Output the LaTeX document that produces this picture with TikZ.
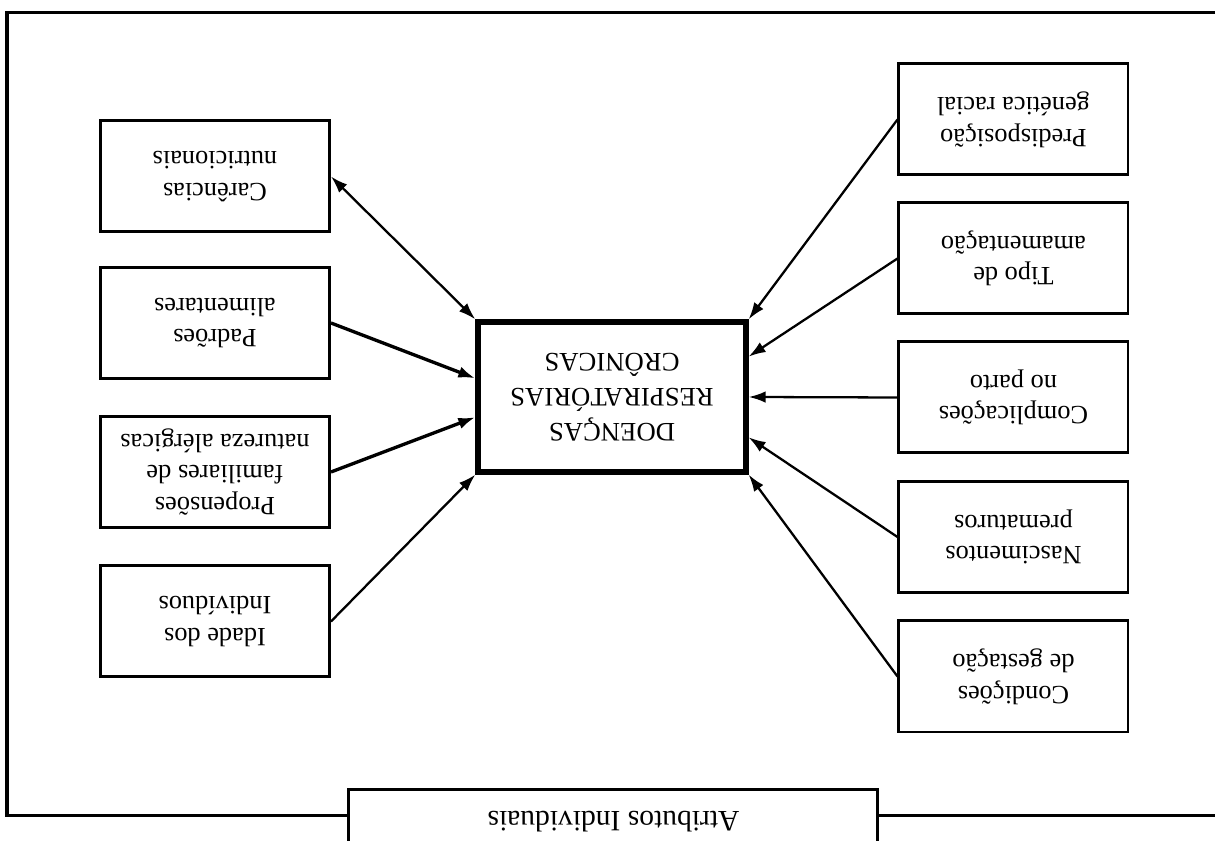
\documentclass[tikz,border=0pt]{standalone}
\usepackage{fontspec}
\setmainfont{Liberation Serif}
\usetikzlibrary{
    arrows.meta,
    calc
}
\tikzset {
    small box/.style = {draw, line width = 0.85pt, align = center,
        minimum width = 2.29cm, minimum height = 1.11cm, inner sep = 1pt,
        font = \fontsize{7.5}{9}\selectfont},
    main box/.style = {draw, line width = 1.5pt, align = center,
        minimum width = 2.68cm, minimum height = 1.5cm,
        font = \fontsize{7.6}{10}\selectfont},
    title box/.style = {draw, fill = white, line width = 0.85pt,
        minimum width = 5.29cm, minimum height = 0.64cm,
        font = \fontsize{8.4}{10}\selectfont},
    link/.style = {line width = 0.65pt, -{Latex[length = 1.7mm, width = 1.15mm]}},
    heavy link/.style = {link, line width = 0.95pt},
    both link/.style = {link, {Latex[length = 1.7mm, width = 1.15mm]}-{Latex[length = 1.7mm, width = 1.15mm]}}
}
\begin{document}
\begin{tikzpicture}[rotate = 180, transform shape]
    \useasboundingbox (0, 0) rectangle (12.15, 8.41);
    \clip (0, 0) rectangle (12.15, 8.41);
    \draw [line width = 0.9pt] (-0.2, 0.125) rectangle (12.08, 8.155);
    %
    \node (ctr) [main box] at (6.03, 3.97) {DOENÇAS\\RESPIRATÓRIAS\\CRÔNICAS};
    \node (title) [title box, anchor = south] at (6.015, 7.88) {Atributos Individuais};
    %
    \node (gen) [small box] at (2.015, 1.195) {Predisposição\\genética racial};
    \node (amam) [small box] at (2.015, 2.585) {Tipo de\\amamentação};
    \node (parto) [small box] at (2.015, 3.975) {Complicações\\no parto};
    \node (prem) [small box] at (2.015, 5.37) {Nascimentos\\prematuros};
    \node (gest) [small box] at (2.015, 6.765) {Condições\\de gestação};
    %
    \node (nutri) [small box] at (10.0, 1.765) {Carências\\nutricionais};
    \node (alim) [small box] at (10.0, 3.23) {Padrões\\alimentares};
    \node (alerg) [small box] at (10.0, 4.72) {Propensões\\familiares de\\natureza alérgicas};
    \node (idade) [small box] at (10.0, 6.215) {Idade dos\\Indivíduos};
    %
    \draw [link] (gen.east) -- (ctr.south west);
    \draw [link] (amam.east) -- ($(ctr.south west)!0.24!(ctr.north west)$);
    \draw [link] (parto.east) -- (ctr.west);
    \draw [link] (prem.east) -- ($(ctr.south west)!0.76!(ctr.north west)$);
    \draw [link] (gest.east) -- (ctr.north west);
    %
    \draw [both link] (nutri.west) -- (ctr.south east);
    \draw [heavy link] (alim.west) -- ($(ctr.south east)!0.38!(ctr.north east)$);
    \draw [heavy link] (alerg.west) -- ($(ctr.south east)!0.63!(ctr.north east)$);
    \draw [link] (idade.west) -- (ctr.north east);
\end{tikzpicture}
\end{document}
